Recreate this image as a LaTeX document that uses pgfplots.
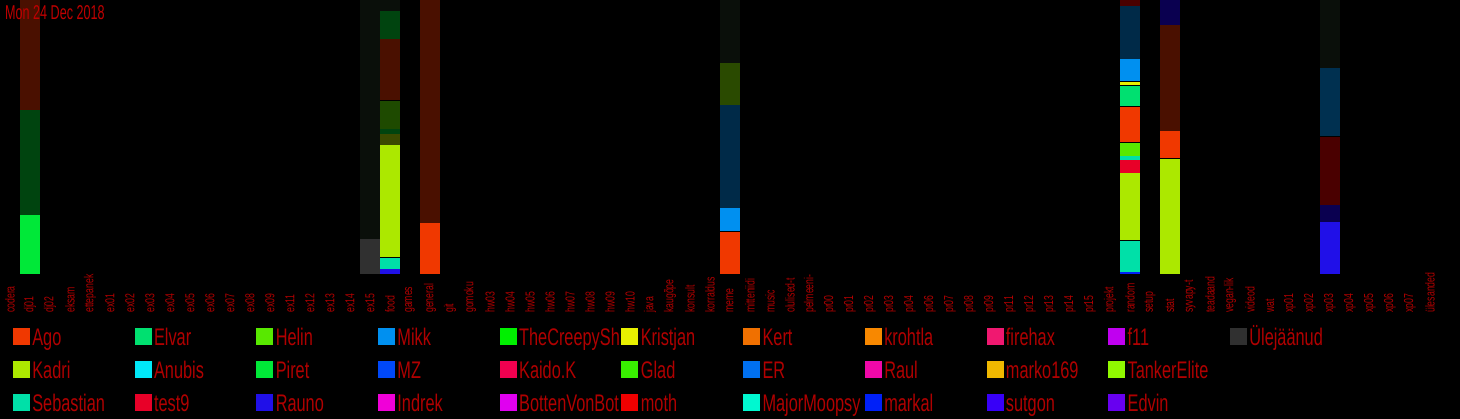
\documentclass[border=0pt]{standalone}
\usepackage{pgfplots}
\pgfplotsset{compat=1.18}
\usepackage{fontspec}
\setmainfont{Liberation Sans}
\newfontfamily\labfont{Liberation Sans}[FakeStretch=0.67]
\newfontfamily\legfont{Liberation Sans}[FakeStretch=0.68]
\newfontfamily\titfont{Liberation Sans}[FakeStretch=0.63]
\definecolor{labred}{HTML}{B00000}
\definecolor{titred}{HTML}{C00000}
% dark segment colours
\definecolor{vdark}{HTML}{0A0F0A}
\definecolor{dred}{HTML}{4A1000}
\definecolor{dgreen}{HTML}{00440F}
\definecolor{dolive}{HTML}{1E4A00}
\definecolor{dolive2}{HTML}{2A4A00}
\definecolor{olive}{HTML}{3A4A00}
\definecolor{navy}{HTML}{002A48}
\definecolor{maroon}{HTML}{4A0000}
\definecolor{navyv}{HTML}{0A0050}
\definecolor{dteal}{HTML}{003050}
% users
\definecolor{cAgo}{HTML}{F03800}
\definecolor{cElvar}{HTML}{00E070}
\definecolor{cHelin}{HTML}{58E800}
\definecolor{cMikk}{HTML}{0090F0}
\definecolor{cCreepy}{HTML}{00F000}
\definecolor{cKristjan}{HTML}{E8F000}
\definecolor{cKert}{HTML}{F07000}
\definecolor{ckrohtla}{HTML}{F88800}
\definecolor{cfirehax}{HTML}{F01870}
\definecolor{cfll}{HTML}{C000F0}
\definecolor{cUle}{HTML}{303030}
\definecolor{cKadri}{HTML}{ACE800}
\definecolor{cAnubis}{HTML}{00E8F8}
\definecolor{cPiret}{HTML}{00E838}
\definecolor{cMZ}{HTML}{0048F8}
\definecolor{cKaido}{HTML}{F00050}
\definecolor{cGlad}{HTML}{38F000}
\definecolor{cER}{HTML}{0070F0}
\definecolor{cRaul}{HTML}{F008A8}
\definecolor{cmarko}{HTML}{F0B800}
\definecolor{cTanker}{HTML}{90F800}
\definecolor{cSebastian}{HTML}{00E0A8}
\definecolor{ctest}{HTML}{E80028}
\definecolor{cRauno}{HTML}{2010E8}
\definecolor{cIndrek}{HTML}{F000D8}
\definecolor{cBotten}{HTML}{E000F0}
\definecolor{cmoth}{HTML}{F00000}
\definecolor{cMajor}{HTML}{00F8D0}
\definecolor{cmarkal}{HTML}{0020F8}
\definecolor{csutgon}{HTML}{3800F8}
\definecolor{cEdvin}{HTML}{6800F0}
\newcommand{\lentry}[1]{\makebox[101.3pt][l]{#1}}
\begin{document}
\begin{tikzpicture}
\fill[black] (0,0) rectangle (1460pt,419pt);
\begin{axis}[
  at={(0pt,145pt)}, anchor=south west,
  scale only axis, width=1460pt, height=274pt,
  xmin=-0.5, xmax=72.5, ymin=0, ymax=274,
  axis line style={draw=none}, tick style={draw=none},
  ytick=\empty,
  xtick={0,...,71},
  xticklabels={codera,dj01,dj02,eksam,ettepanek,ex01,ex02,ex03,ex04,ex05,ex06,ex07,ex08,ex09,ex11,ex12,ex13,ex14,ex15,food,games,general,git,gomoku,hw03,hw04,hw05,hw06,hw07,hw08,hw09,hw10,java,kaugõpe,konsult,korraldus,meme,mitteniidi,music,olulised-t,pelmeeni-,pr00,pr01,pr02,pr03,pr04,pr06,pr07,pr08,pr09,pr11,pr12,pr13,pr14,pr15,projekt,random,setup,stat,syvapy-t,teadaand,vegan-lik,videod,wat,xp01,xp02,xp03,xp04,xp05,xp06,xp07,ülesanded},
  xticklabel shift=39pt,
  xticklabel style={rotate=90, anchor=west, inner sep=0pt, text=labred, font=\labfont\fontsize{13}{13}\selectfont},
  seg/.style={ybar, bar width=1, bar shift=0pt, draw=none, fill=#1, forget plot},
  legend columns=11,
  legend style={draw=none, fill=none, at={(axis description cs:0.0082,-0.1898)}, anchor=north west,
    inner sep=0pt, outer sep=0pt, row sep=13pt, /tikz/column sep=0pt,
    /tikz/every odd column/.append style={column sep=2pt},
    nodes={inner sep=0pt, text height=19pt, text depth=1pt, text=labred, font=\legfont\fontsize{24}{24}\selectfont}},
  legend image code/.code={\fill[#1] (0pt,-9pt) rectangle (18pt,9pt);},
]
% dj01
\addplot[seg=dred] coordinates {(1,274)};
\addplot[seg=dgreen] coordinates {(1,164)};
\addplot[seg=cPiret] coordinates {(1,59)};
% ex15
\addplot[seg=vdark] coordinates {(18,274)};
\addplot[seg=cUle] coordinates {(18,35)};
% food
\addplot[seg=vdark] coordinates {(19,274)};
\addplot[seg=dgreen] coordinates {(19,263)};
\addplot[seg=dred] coordinates {(19,235)};
\addplot[seg=black] coordinates {(19,174)};
\addplot[seg=dolive] coordinates {(19,173)};
\addplot[seg=dgreen] coordinates {(19,145)};
\addplot[seg=olive] coordinates {(19,140)};
\addplot[seg=cKadri] coordinates {(19,129)};
\addplot[seg=black] coordinates {(19,17)};
\addplot[seg=cSebastian] coordinates {(19,16)};
\addplot[seg=cRauno] coordinates {(19,5)};
% general
\addplot[seg=dred] coordinates {(21,274)};
\addplot[seg=cAgo] coordinates {(21,51)};
% meme
\addplot[seg=vdark] coordinates {(36,274)};
\addplot[seg=dolive2] coordinates {(36,211)};
\addplot[seg=navy] coordinates {(36,169)};
\addplot[seg=cMikk] coordinates {(36,66)};
\addplot[seg=black] coordinates {(36,43)};
\addplot[seg=cAgo] coordinates {(36,42)};
% random
\addplot[seg=maroon] coordinates {(56,274)};
\addplot[seg=navy] coordinates {(56,268)};
\addplot[seg=cMikk] coordinates {(56,215)};
\addplot[seg=black] coordinates {(56,193)};
\addplot[seg=cKristjan] coordinates {(56,192)};
\addplot[seg=black] coordinates {(56,189)};
\addplot[seg=cElvar] coordinates {(56,188)};
\addplot[seg=black] coordinates {(56,168)};
\addplot[seg=cAgo] coordinates {(56,167)};
\addplot[seg=black] coordinates {(56,132)};
\addplot[seg=cHelin] coordinates {(56,131)};
\addplot[seg=cSebastian] coordinates {(56,118)};
\addplot[seg=ctest] coordinates {(56,114)};
\addplot[seg=cKadri] coordinates {(56,101)};
\addplot[seg=black] coordinates {(56,34)};
\addplot[seg=cSebastian] coordinates {(56,33)};
\addplot[seg=cmarkal] coordinates {(56,2)};
% stat
\addplot[seg=navyv] coordinates {(58,274)};
\addplot[seg=dred] coordinates {(58,249)};
\addplot[seg=cAgo] coordinates {(58,143)};
\addplot[seg=black] coordinates {(58,116)};
\addplot[seg=cKadri] coordinates {(58,115)};
% xp03
\addplot[seg=vdark] coordinates {(66,274)};
\addplot[seg=dteal] coordinates {(66,206)};
\addplot[seg=black] coordinates {(66,138)};
\addplot[seg=maroon] coordinates {(66,137)};
\addplot[seg=navyv] coordinates {(66,69)};
\addplot[seg=cRauno] coordinates {(66,52)};
% legend
\addlegendimage{fill=cAgo}\addlegendentry{\lentry{Ago}}
\addlegendimage{fill=cElvar}\addlegendentry{\lentry{Elvar}}
\addlegendimage{fill=cHelin}\addlegendentry{\lentry{Helin}}
\addlegendimage{fill=cMikk}\addlegendentry{\lentry{Mikk}}
\addlegendimage{fill=cCreepy}\addlegendentry{\lentry{TheCreepySh}}
\addlegendimage{fill=cKristjan}\addlegendentry{\lentry{Kristjan}}
\addlegendimage{fill=cKert}\addlegendentry{\lentry{Kert}}
\addlegendimage{fill=ckrohtla}\addlegendentry{\lentry{krohtla}}
\addlegendimage{fill=cfirehax}\addlegendentry{\lentry{firehax}}
\addlegendimage{fill=cfll}\addlegendentry{\lentry{f11}}
\addlegendimage{fill=cUle}\addlegendentry{\lentry{Ülejäänud}}
\addlegendimage{fill=cKadri}\addlegendentry{\lentry{Kadri}}
\addlegendimage{fill=cAnubis}\addlegendentry{\lentry{Anubis}}
\addlegendimage{fill=cPiret}\addlegendentry{\lentry{Piret}}
\addlegendimage{fill=cMZ}\addlegendentry{\lentry{MZ}}
\addlegendimage{fill=cKaido}\addlegendentry{\lentry{Kaido.K}}
\addlegendimage{fill=cGlad}\addlegendentry{\lentry{Glad}}
\addlegendimage{fill=cER}\addlegendentry{\lentry{ER}}
\addlegendimage{fill=cRaul}\addlegendentry{\lentry{Raul}}
\addlegendimage{fill=cmarko}\addlegendentry{\lentry{marko169}}
\addlegendimage{fill=cTanker}\addlegendentry{\lentry{TankerElite}}
\addlegendimage{fill=black}\addlegendentry{\lentry{}}
\addlegendimage{fill=cSebastian}\addlegendentry{\lentry{Sebastian}}
\addlegendimage{fill=ctest}\addlegendentry{\lentry{test9}}
\addlegendimage{fill=cRauno}\addlegendentry{\lentry{Rauno}}
\addlegendimage{fill=cIndrek}\addlegendentry{\lentry{Indrek}}
\addlegendimage{fill=cBotten}\addlegendentry{\lentry{BottenVonBot}}
\addlegendimage{fill=cmoth}\addlegendentry{\lentry{moth}}
\addlegendimage{fill=cMajor}\addlegendentry{\lentry{MajorMoopsy}}
\addlegendimage{fill=cmarkal}\addlegendentry{\lentry{markal}}
\addlegendimage{fill=csutgon}\addlegendentry{\lentry{sutgon}}
\addlegendimage{fill=cEdvin}\addlegendentry{\lentry{Edvin}}
\end{axis}
\node[anchor=north west, inner sep=0pt, text=titred, font=\titfont\fontsize{20}{20}\selectfont] at (5pt,414pt) {Mon 24 Dec 2018};
\pgfresetboundingbox
\useasboundingbox (0,0) rectangle (1460pt,419pt);
\end{tikzpicture}
\end{document}
